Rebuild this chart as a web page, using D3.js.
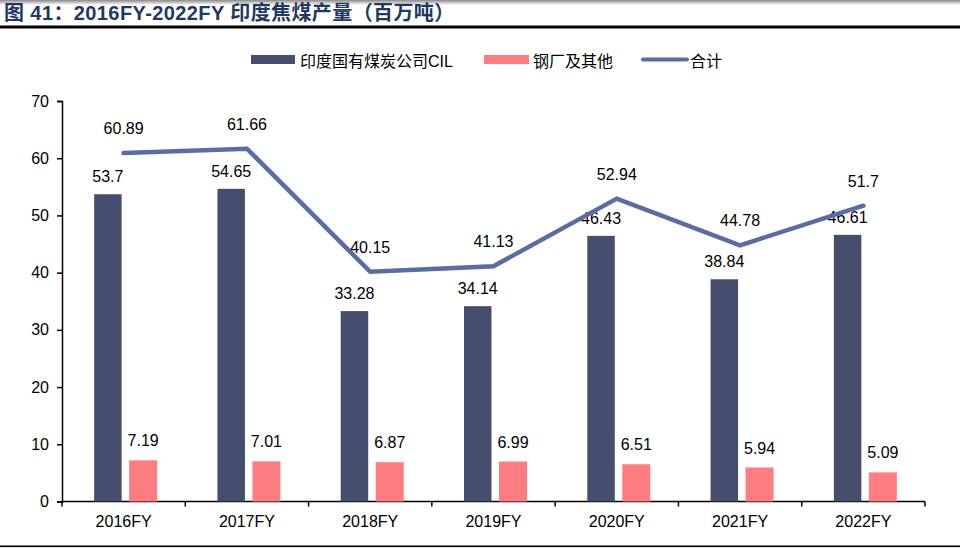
<!DOCTYPE html>
<html><head><meta charset="utf-8">
<script src="https://cdn.jsdelivr.net/npm/d3@7"></script>
<style>
html,body{margin:0;padding:0;background:#fff;}
svg{display:block;}
</style>
</head><body>
<svg id="chart" width="960" height="548"></svg>
<script>
const categories = ["2016FY","2017FY","2018FY","2019FY","2020FY","2021FY","2022FY"];
const cilValues = [53.7, 54.65, 33.28, 34.14, 46.43, 38.84, 46.61];
const steelValues = [7.19, 7.01, 6.87, 6.99, 6.51, 5.94, 5.09];
const totalValues = [60.89, 61.66, 40.15, 41.13, 52.94, 44.78, 51.7];
const yTicks = [0,10,20,30,40,50,60,70];
const seriesNames = ["印度国有煤炭公司CIL","钢厂及其他","合计"];
const titleText = "图 41：2016FY-2022FY 印度焦煤产量（百万吨）";

const colDark = "#454f6d", colPink = "#ff7c80", colLine = "#5a6ca5";
const fontLat = "'Liberation Sans', Arial, 'Noto Sans CJK SC', sans-serif";
const fontCJK = "'Liberation Sans', 'Noto Sans CJK SC', sans-serif";

const svg = d3.select("#chart");

// top shading & title
const defs = svg.append("defs");
const g1 = defs.append("linearGradient").attr("id","topg").attr("x1",0).attr("y1",0).attr("x2",0).attr("y2",1);
g1.append("stop").attr("offset","0%").attr("stop-color","#8a8a8a");
g1.append("stop").attr("offset","100%").attr("stop-color","#ffffff");
svg.append("rect").attr("x",0).attr("y",0).attr("width",960).attr("height",5).attr("fill","url(#topg)");
svg.append("text").attr("x",4).attr("y",20)
  .attr("font-family",fontCJK).attr("font-weight","bold").attr("font-size",20)
  .attr("letter-spacing","0.4px")
  .attr("fill","#1f3864").text(titleText);
svg.append("rect").attr("x",0).attr("y",25.5).attr("width",960).attr("height",3).attr("fill","#000");
svg.append("rect").attr("x",0).attr("y",545.5).attr("width",960).attr("height",1.6).attr("fill","#000");

const x = d3.scaleBand().domain(categories).range([62,925]).padding(0);
const y = d3.scaleLinear().domain([0,70]).range([501.5,101]);
const cx = d => x(d) + x.bandwidth()/2;

// axes
const yAxis = svg.append("g").attr("transform","translate(62,0)")
  .call(d3.axisLeft(y).tickValues(yTicks).tickSize(5).tickPadding(8));
yAxis.select(".domain").attr("stroke","#000").attr("stroke-width",1.5);
yAxis.selectAll(".tick line").attr("stroke","#000").attr("stroke-width",1.5);
yAxis.selectAll(".tick text").attr("font-family",fontLat).attr("font-size",16).attr("fill","#000");

const xAxisG = svg.append("g");
xAxisG.append("line").attr("x1",62).attr("x2",925).attr("y1",y(0)).attr("y2",y(0))
  .attr("stroke","#000").attr("stroke-width",1.5);
const bounds = categories.map(c => x(c)).concat([x(categories[categories.length-1]) + x.bandwidth()]);
xAxisG.selectAll("line.tk").data(bounds).enter().append("line").attr("class","tk")
  .attr("x1",d=>d).attr("x2",d=>d).attr("y1",y(0)).attr("y2",y(0)+5)
  .attr("stroke","#000").attr("stroke-width",1.5);
xAxisG.selectAll("text").data(categories).enter().append("text")
  .attr("x",d=>cx(d)).attr("y",527).attr("text-anchor","middle")
  .attr("font-family",fontLat).attr("font-size",16).attr("fill","#000").text(d=>d);

// bars
const bw = 27.5;
svg.append("g").selectAll("rect").data(categories).enter().append("rect")
  .attr("x",d=>cx(d)-29.5).attr("width",bw)
  .attr("y",(d,i)=>y(cilValues[i])).attr("height",(d,i)=>y(0)-y(cilValues[i]))
  .attr("fill",colDark);
svg.append("g").selectAll("rect").data(categories).enter().append("rect")
  .attr("x",d=>cx(d)+5.5).attr("width",28)
  .attr("y",(d,i)=>y(steelValues[i])).attr("height",(d,i)=>y(0)-y(steelValues[i]))
  .attr("fill",colPink);

// bar labels
svg.append("g").selectAll("text").data(categories).enter().append("text")
  .attr("x",d=>cx(d)-29.5+bw/2).attr("y",(d,i)=>y(cilValues[i])-12)
  .attr("text-anchor","middle").attr("font-family",fontLat).attr("font-size",16).attr("fill","#000")
  .text((d,i)=>cilValues[i]);
svg.append("g").selectAll("text").data(categories).enter().append("text")
  .attr("x",d=>cx(d)+5.5+14).attr("y",(d,i)=>y(steelValues[i])-14)
  .attr("text-anchor","middle").attr("font-family",fontLat).attr("font-size",16).attr("fill","#000")
  .text((d,i)=>steelValues[i]);

// line
const line = d3.line().x((d,i)=>cx(categories[i])).y(d=>y(d));
svg.append("path").datum(totalValues).attr("d",line).attr("fill","none")
  .attr("stroke",colLine).attr("stroke-width",4.5).attr("stroke-linecap","round").attr("stroke-linejoin","miter");
svg.append("g").selectAll("text").data(categories).enter().append("text")
  .attr("x",d=>cx(d)).attr("y",(d,i)=>y(totalValues[i])-19)
  .attr("text-anchor","middle").attr("font-family",fontLat).attr("font-size",16).attr("fill","#000")
  .text((d,i)=>totalValues[i]);

// legend
const lg = svg.append("g");
lg.append("rect").attr("x",251).attr("y",55).attr("width",44).attr("height",9).attr("fill",colDark);
lg.append("text").attr("x",300).attr("y",66.5).attr("font-family",fontCJK).attr("font-size",16).attr("fill","#000").text(seriesNames[0]);
lg.append("rect").attr("x",484).attr("y",55).attr("width",45).attr("height",9).attr("fill",colPink);
lg.append("text").attr("x",533).attr("y",66.5).attr("font-family",fontCJK).attr("font-size",16).attr("fill","#000").text(seriesNames[1]);
lg.append("line").attr("x1",643).attr("x2",687).attr("y1",59.5).attr("y2",59.5)
  .attr("stroke",colLine).attr("stroke-width",4).attr("stroke-linecap","round");
lg.append("text").attr("x",690).attr("y",66.5).attr("font-family",fontCJK).attr("font-size",16).attr("fill","#000").text(seriesNames[2]);
</script>
</body></html>
